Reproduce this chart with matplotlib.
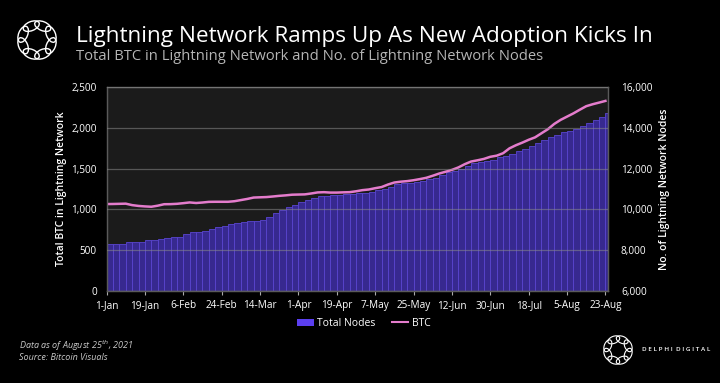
import matplotlib
matplotlib.use("Agg")
import matplotlib.pyplot as plt
import matplotlib.dates as mdates
from matplotlib.patches import Ellipse, Patch
from matplotlib.lines import Line2D
import numpy as np
import pandas as pd

plt.rcParams['font.family'] = ['Open Sans', 'DejaVu Sans']

# ---------------- data (every 3 days) ----------------
dates = pd.date_range("2021-01-01", periods=79, freq="3D")

btc = [1065, 1066, 1068, 1070, 1052, 1042, 1036, 1032, 1045, 1063,
       1064, 1068, 1076, 1085, 1078, 1084, 1092, 1093, 1093, 1093,
       1100, 1114, 1128, 1145, 1148, 1151, 1158, 1166, 1172, 1180,
       1182, 1184, 1195, 1208, 1211, 1206, 1206, 1209, 1211, 1222,
       1236, 1244, 1260, 1274, 1305, 1330, 1340, 1347, 1358, 1372,
       1388, 1413, 1440, 1462, 1485, 1515, 1555, 1588, 1603, 1620,
       1646, 1660, 1690, 1750, 1788, 1820, 1855, 1885, 1935, 1985,
       2050, 2100, 2140, 2180, 2225, 2268, 2292, 2312, 2333]

nodes = [8296, 8300, 8310, 8370, 8390, 8410, 8490, 8510, 8525, 8600,
         8630, 8655, 8800, 8880, 8910, 8935, 9030, 9130, 9180, 9270,
         9310, 9360, 9420, 9450, 9490, 9640, 9800, 9960, 10100, 10220,
         10350, 10460, 10580, 10650, 10680, 10700, 10710, 10740, 10765, 10790,
         10815, 10870, 10930, 11000, 11120, 11250, 11280, 11300, 11340, 11390,
         11470, 11560, 11700, 11820, 11890, 12000, 12130, 12265, 12320, 12380,
         12450, 12560, 12640, 12740, 12860, 12980, 13100, 13250, 13420, 13560,
         13680, 13780, 13840, 13960, 14080, 14230, 14380, 14530, 14720]

tick_dates = pd.date_range("2021-01-01", periods=14, freq="18D")
tick_labels = ["1-Jan", "19-Jan", "6-Feb", "24-Feb", "14-Mar", "1-Apr", "19-Apr",
               "7-May", "25-May", "12-Jun", "30-Jun", "18-Jul", "5-Aug", "23-Aug"]

# ---------------- figure ----------------
fig = plt.figure(figsize=(7.2, 3.83), dpi=100, facecolor="black")
ax2 = fig.add_axes([0.148, 0.241, 0.697, 0.531])  # nodes (right)
ax = ax2.twinx()                                    # btc (left) drawn on top
ax.yaxis.tick_left()
ax.yaxis.set_label_position("left")
ax2.yaxis.tick_right()
ax2.yaxis.set_label_position("right")
ax.set_zorder(ax2.get_zorder() + 1)
ax.patch.set_visible(False)
ax2.set_facecolor("#1b1b1b")

x = mdates.date2num(dates)
ax2.bar(x + 1.5, nodes, width=3.0, bottom=0, color="#37298f",
        edgecolor="#5a45d0", linewidth=0.6)
ax2.set_ylim(6000, 16000)
ax.plot(x, btc, color="#e47ccc", lw=1.8)
ax.set_ylim(0, 2500)

x0 = mdates.date2num(pd.Timestamp("2021-01-01"))
ax.set_xlim(x0, x0 + 235.4)
ax.set_xticks(mdates.date2num(tick_dates))
ax.set_xticklabels(tick_labels)
ax2.set_xticks(mdates.date2num(tick_dates))
ax2.set_xticklabels(tick_labels)

ax.set_yticks(np.arange(0, 2501, 500))
ax.set_yticklabels([f"{v:,}" for v in range(0, 2501, 500)])
ax2.set_yticks(np.arange(6000, 16001, 2000))
ax2.set_yticklabels([f"{v:,}" for v in range(6000, 16001, 2000)])

ax.grid(axis="y", color="#8a8a8a", lw=0.9, alpha=0.55)
ax.set_axisbelow(False)

for a in (ax, ax2):
    for s in a.spines.values():
        s.set_color("#5a5a5a")
        s.set_linewidth(0.9)
    a.tick_params(colors="white", labelsize=7.2, length=0)
ax2.tick_params(axis="x", length=3, color="#aaaaaa", width=0.8, pad=4)
ax.tick_params(axis="x", length=3, color="#aaaaaa", width=0.8, pad=4)
ax.tick_params(axis="y", pad=7)
ax2.tick_params(axis="y", pad=9)

ax.set_ylabel("Total BTC in Lightning Network", color="white", fontsize=7.5,
              fontweight="semibold", labelpad=3)
ax2.set_ylabel("No. of Lightning Network Nodes", color="white", fontsize=7.5,
               fontweight="semibold", labelpad=5)

# legend
handles = [Patch(facecolor="#5b3ff0", edgecolor="none"),
           Line2D([0], [0], color="#e47ccc", lw=1.5)]
fig.legend(handles, ["Total Nodes", "BTC"], loc="center", ncol=2,
           bbox_to_anchor=(0.505, 0.155), frameon=False, fontsize=7.5,
           labelcolor="white", handlelength=1.6, handletextpad=0.3,
           columnspacing=1.6)

# titles
fig.text(0.105, 0.905, "Lightning Network Ramps Up As New Adoption Kicks In",
         color="white", fontsize=16.2, va="center")
fig.text(0.106, 0.853, "Total BTC in Lightning Network and No. of Lightning Network Nodes",
         color="#b5b5b5", fontsize=10.6, va="center")

# footnotes
fig.text(0.026, 0.097, "Data as of August 25$^{th}$, 2021", color="#c8c8c8",
         fontsize=6.5, style="italic", va="center")
fig.text(0.026, 0.067, "Source: Bitcoin Visuals", color="#c8c8c8",
         fontsize=6.5, style="italic", va="center")


# logos, drawn in inches so circles stay round
def logo(cx, cy, r, w, h, lw):
    for k in range(8):
        ang = np.pi / 8 + k * np.pi / 4
        px = cx + r * np.cos(ang)
        py = cy + r * np.sin(ang)
        e = Ellipse((px, py), w, h, angle=np.degrees(ang) + 90,
                    transform=fig.dpi_scale_trans, fill=False, ec="white", lw=lw)
        fig.add_artist(e)


logo(0.37, 3.43, 0.15, 0.17, 0.09, 1.0)
logo(6.18, 0.33, 0.11, 0.125, 0.07, 0.8)
fig.text(0.892, 0.087, "D E L P H I  D I G I T A L", color="white",
         fontsize=4.6, va="center", fontweight="semibold")

fig.savefig("out.png", dpi=100, facecolor="black")
